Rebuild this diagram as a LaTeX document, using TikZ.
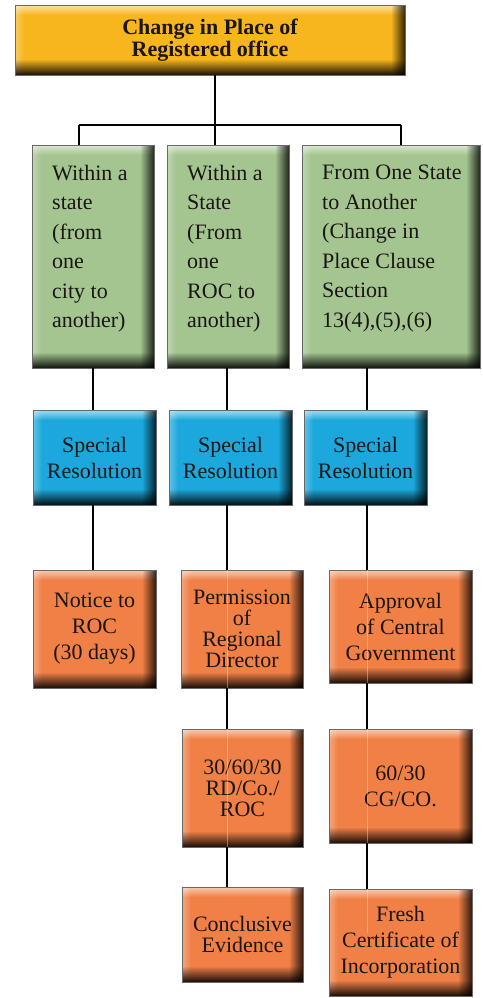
\documentclass[tikz,border=0pt]{standalone}
\usepackage{fontspec}
\setmainfont{Liberation Serif}
\newfontfamily\boxfont{Liberation Serif}
\usetikzlibrary{fadings}

% fadings for the bevelled box edges
\tikzfading[name=bvtop, top color=transparent!0, bottom color=transparent!100]
\tikzfading[name=bvbottom, top color=transparent!100, bottom color=transparent!0]
\tikzfading[name=bvright, left color=transparent!100, right color=transparent!0]
\tikzfading[name=bvleft, left color=transparent!0, right color=transparent!100]

\definecolor{boxyellow}{RGB}{248,182,30}
\definecolor{boxgreen}{RGB}{164,197,144}
\definecolor{boxblue}{RGB}{28,168,220}
\definecolor{boxorange}{RGB}{240,128,70}
\definecolor{edgegray}{RGB}{105,105,105}
\definecolor{inkdark}{RGB}{25,22,20}

\tikzset{
  bevel/.style={
    path picture={
      \path (path picture bounding box.south west) coordinate (bvsw)
            (path picture bounding box.north east) coordinate (bvne);
      \fill[white, opacity=.6, path fading=bvtop]
        (bvsw |- bvne) rectangle ([yshift=-10pt]bvne);
      \fill[white, opacity=.3, path fading=bvleft]
        (bvsw) rectangle ([xshift=9pt]bvsw |- bvne);
      \fill[black, opacity=.9, path fading=bvbottom]
        (bvsw) rectangle ([yshift=16pt]bvsw -| bvne);
      \fill[black, opacity=.8, path fading=bvright]
        ([xshift=-14pt]bvne |- bvsw) rectangle (bvne);
    }},
  panel/.style={draw=edgegray, line width=0.8pt, bevel, inner sep=0pt,
    text=inkdark, align=center, minimum width=#1},
  ybox/.style={panel=390pt, fill=boxyellow, minimum height=70pt,
    font=\boxfont\fontsize{22}{22}\selectfont\bfseries},
  gbox/.style={panel=#1, fill=boxgreen, minimum height=223pt},
  gtext/.style={anchor=north west, inner sep=0pt, align=left, text=inkdark,
    font=\boxfont\fontsize{22}{29.5}\selectfont},
  bbox/.style={panel=123pt, fill=boxblue, minimum height=95pt,
    font=\boxfont\fontsize{22}{26}\selectfont},
  obox/.style={panel=#1, fill=boxorange, font=\boxfont\fontsize{22}{26}\selectfont},
  tight/.style={font=\boxfont\fontsize{22}{21}\selectfont},
  conn/.style={draw=black, line width=1.4pt},
  seam/.style={draw=white, opacity=.35, line width=0.8pt}
}

\begin{document}
\begin{tikzpicture}[x=1pt, y=-1pt]
\useasboundingbox[fill=white] (0,0) rectangle (482,998);

% heading
\node[ybox] (title) at (210,40) {Change in Place of\\Registered office};

% three kinds of change
\node[gbox=122pt] (g1) at (93,256.5) {};
\node[gbox=122pt] (g2) at (228,256.5) {};
\node[gbox=178pt] (g3) at (391,256.5) {};
\node[gtext] (g1t) at (52,165) {Within a\\state\\(from\\one\\city to\\another)};
\node[gtext] (g2t) at (187,165) {Within a\\State\\(From\\one\\ROC to\\another)};
\node[gtext] (g3t) at (322,165) {From One State\\to Another\\(Change in\\Place Clause\\Section\\13(4),(5),(6)};

% resolutions
\node[bbox] (b1) at (94.5,457.5) {Special\\Resolution};
\node[bbox] (b2) at (230.5,457.5) {Special\\Resolution};
\node[bbox] (b3) at (365.5,457.5) {Special\\Resolution};

% following steps
\node[obox=123pt, minimum height=118pt] (o1) at (94.5,629) {Notice to\\ROC\\(30 days)};
\node[obox=122pt, minimum height=118pt, tight] (perm) at (242,629) {Permission\\of\\Regional\\Director};
\node[obox=143pt, minimum height=113pt] (appr) at (400.5,626.5) {Approval\\of Central\\Government};
\node[obox=121pt, minimum height=118pt, tight] (rd) at (242.5,788) {30/60/30\\RD/Co./\\ROC};
\node[obox=143pt, minimum height=114pt] (cg) at (400.5,786) {60/30\\CG/CO.};
\node[obox=121pt, minimum height=95pt, tight] (concl) at (242.5,934.5) {Conclusive\\Evidence};
\node[obox=143pt, minimum height=107pt] (fresh) at (400.5,942.5) {Fresh\\Certificate of\\Incorporation};

% connectors
\coordinate (bus) at (215,125);
\coordinate (busL) at (79,125);
\coordinate (busR) at (401,125);
\coordinate (x1) at (93,0);
\coordinate (x2) at (227,0);
\coordinate (x3) at (367,0);

\draw[conn] (title.south -| bus) -- (bus);
\draw[conn] (busL) -- (busR);
\draw[conn] (busL) -- (busL |- g1.north);
\draw[conn] (bus) -- (bus |- g2.north);
\draw[conn] (busR) -- (busR |- g3.north);

\draw[conn] (g1.south -| x1) -- (b1.north -| x1);
\draw[conn] (b1.south -| x1) -- (o1.north -| x1);

\draw[conn] (g2.south -| x2) -- (b2.north -| x2);
\draw[conn] (b2.south -| x2) -- (perm.north -| x2);
\draw[conn] (perm.south -| x2) -- (rd.north -| x2);
\draw[conn] (rd.south -| x2) -- (concl.north -| x2);

\draw[conn] (g3.south -| x3) -- (b3.north -| x3);
\draw[conn] (b3.south -| x3) -- (appr.north -| x3);
\draw[conn] (appr.south -| x3) -- (cg.north -| x3);
\draw[conn] (cg.south -| x3) -- (fresh.north -| x3);

% the line showing faintly through the boxes it passes behind
\draw[seam] (perm.north -| x2) -- (perm.south -| x2);
\draw[seam] (rd.north -| x2) -- (rd.south -| x2);
\draw[seam] (appr.north -| x3) -- (appr.south -| x3);
\draw[seam] (cg.north -| x3) -- (cg.south -| x3);
\draw[seam] (fresh.north -| x3) -- ([yshift=-44pt]fresh.north -| x3);
\end{tikzpicture}
\end{document}
